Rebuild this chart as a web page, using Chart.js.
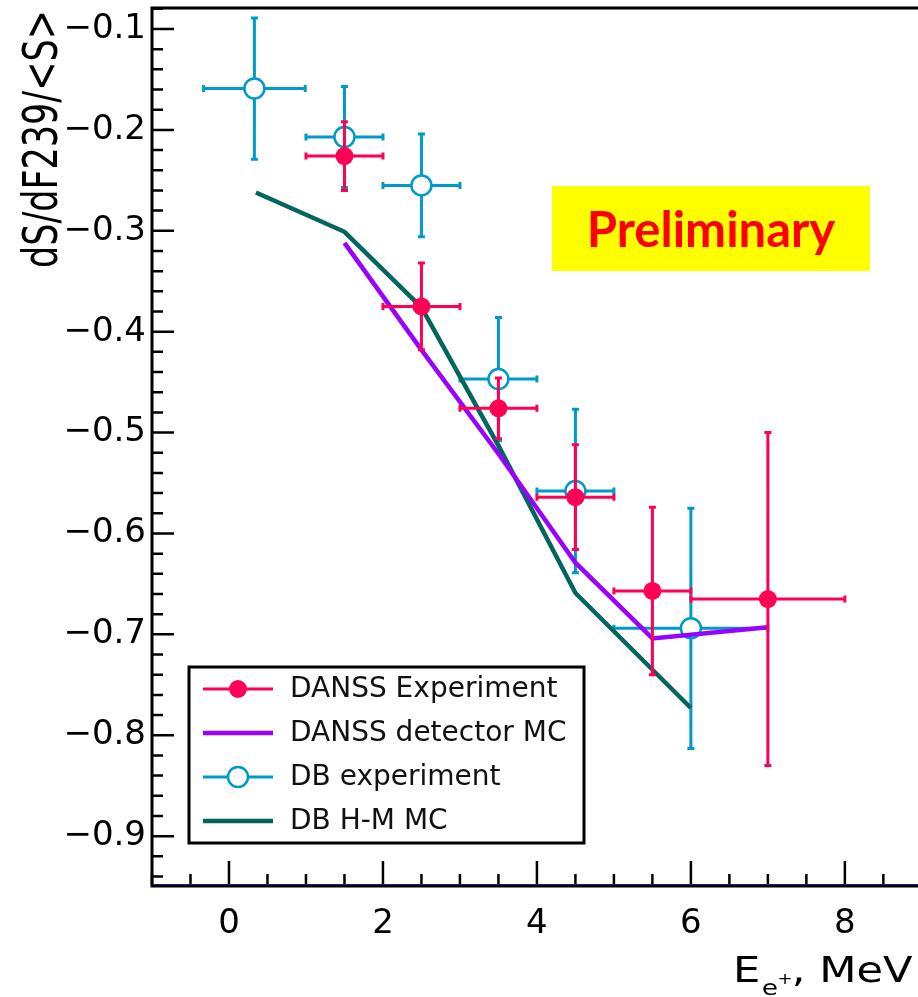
<!DOCTYPE html>
<html>
<head>
<meta charset="utf-8">
<script src="https://cdn.jsdelivr.net/npm/chart.js@4.4.1/dist/chart.umd.min.js"></script>
<style>
  html, body { margin: 0; padding: 0; background: #fff; overflow: hidden; }
  #wrap { position: relative; width: 918px; height: 997px; }
  #prelim {
    position: absolute; left: 552px; top: 186px; width: 318px; height: 85px;
    background: #ffff00; color: #ff0000;
    font: bold 49px Lato, "Open Sans", sans-serif;
    line-height: 85px; text-align: center;
  }
</style>
</head>
<body>
<div id="wrap">
  <canvas id="chart" width="918" height="997"></canvas>
  <div id="prelim">Preliminary</div>
</div>
<script>
// tick labels
const xTicks = [0, 2, 4, 6, 8];
const yTicks = [-0.1, -0.2, -0.3, -0.4, -0.5, -0.6, -0.7, -0.8, -0.9];

// DANSS experiment
const danssE = [1.5, 2.5, 3.5, 4.5, 5.5, 7.0];
const danssVal = [-0.226, -0.375, -0.476, -0.564, -0.657, -0.665];
const danssErrX = [0.5, 0.5, 0.5, 0.5, 0.5, 1.0];
const danssErrY = [0.034, 0.043, 0.030, 0.052, 0.083, 0.165];

// DANSS detector MC
const danssMcE = [1.5, 2.5, 3.5, 4.5, 5.5, 7.0];
const danssMcVal = [-0.312, -0.418, -0.521, -0.629, -0.704, -0.693];

// DB experiment
const dbE = [0.33, 1.5, 2.5, 3.5, 4.5, 6.0];
const dbVal = [-0.159, -0.207, -0.255, -0.447, -0.558, -0.694];
const dbErrX = [0.66, 0.5, 0.5, 0.5, 0.5, 1.0];
const dbErrY = [0.070, 0.050, 0.051, 0.061, 0.081, 0.119];

// DB H-M MC
const dbMcE = [0.35, 1.5, 2.5, 3.5, 4.5, 6.0];
const dbMcVal = [-0.262, -0.301, -0.376, -0.513, -0.659, -0.773];

const PINK = 'rgb(255, 0, 85)';
const PURPLE = 'rgb(153, 0, 255)';
const BLUE = 'rgb(0, 153, 204)';
const TEAL = 'rgb(0, 102, 94)';

const pts = (xs, ys) => xs.map((x, i) => ({ x: x, y: ys[i] }));

// ROOT style error bars with small end caps, drawn just under each dataset's markers
const errorBars = {
  id: 'errorBars',
  beforeDatasetDraw(chart, args) {
    const ds = chart.data.datasets[args.index];
    if (!ds.errX) return;
    const { ctx, scales: { x, y } } = chart;
    ctx.save();
    ctx.strokeStyle = ds.borderColor;
    ctx.lineWidth = 3;
    ctx.beginPath();
    ds.data.forEach((p, i) => {
      const px = x.getPixelForValue(p.x), py = y.getPixelForValue(p.y);
      const x0 = x.getPixelForValue(p.x - ds.errX[i]), x1 = x.getPixelForValue(p.x + ds.errX[i]);
      const y0 = y.getPixelForValue(p.y - ds.errY[i]), y1 = y.getPixelForValue(p.y + ds.errY[i]);
      ctx.moveTo(x0, py); ctx.lineTo(x1, py);
      ctx.moveTo(px, y0); ctx.lineTo(px, y1);
      ctx.moveTo(x0, py - 3.5); ctx.lineTo(x0, py + 3.5);
      ctx.moveTo(x1, py - 3.5); ctx.lineTo(x1, py + 3.5);
      ctx.moveTo(px - 3.5, y0); ctx.lineTo(px + 3.5, y0);
      ctx.moveTo(px - 3.5, y1); ctx.lineTo(px + 3.5, y1);
    });
    ctx.stroke();
    ctx.restore();
  }
};

// frame, inward ticks, legend box and axis titles
const rootFrame = {
  id: 'rootFrame',
  afterDraw(chart) {
    const { ctx, chartArea: a, scales: { x, y } } = chart;
    ctx.save();
    ctx.strokeStyle = '#000';
    ctx.lineWidth = 2.5;
    ctx.beginPath();
    for (let i = Math.ceil(x.min * 2); i <= Math.floor(x.max * 2); i++) {
      const px = x.getPixelForValue(i / 2);
      const len = i % 4 === 0 ? 25 : 12;
      ctx.moveTo(px, a.bottom); ctx.lineTo(px, a.bottom - len);
    }
    for (let i = Math.ceil(y.min * 50); i <= Math.floor(y.max * 50); i++) {
      const py = y.getPixelForValue(i / 50);
      const len = i % 5 === 0 ? 22 : 11;
      ctx.moveTo(a.left, py); ctx.lineTo(a.left + len, py);
    }
    ctx.stroke();

    // frame
    ctx.lineWidth = 3;
    ctx.beginPath();
    ctx.moveTo(a.right, a.top); ctx.lineTo(a.left, a.top); ctx.lineTo(a.left, a.bottom); ctx.lineTo(a.right, a.bottom);
    ctx.stroke();
    ctx.strokeStyle = '#1c1c8c';
    ctx.lineWidth = 1;
    ctx.beginPath();
    ctx.moveTo(a.left + 2, a.bottom - 1.5); ctx.lineTo(a.right, a.bottom - 1.5);
    ctx.stroke();

    // legend
    const lx = 189, ly = 667, lw = 395, lh = 176;
    ctx.fillStyle = '#fff';
    ctx.fillRect(lx, ly, lw, lh);
    ctx.strokeStyle = '#000';
    ctx.lineWidth = 3;
    ctx.strokeRect(lx, ly, lw, lh);
    ctx.font = '28px "DejaVu Sans"';
    ctx.textBaseline = 'middle';
    ctx.textAlign = 'left';
    chart.data.datasets.forEach((ds, i) => {
      const ry = 689 + i * 44;
      ctx.strokeStyle = ds.borderColor;
      ctx.lineWidth = ds.showLine ? ds.borderWidth : 3;
      ctx.beginPath();
      ctx.moveTo(203, ry); ctx.lineTo(273, ry);
      ctx.stroke();
      if (ds.pointRadius > 0) {
        ctx.beginPath();
        ctx.arc(238, ry, ds.pointRadius, 0, Math.PI * 2);
        ctx.fillStyle = ds.backgroundColor;
        ctx.fill();
        if (ds.pointBorderWidth > 0) {
          ctx.lineWidth = ds.pointBorderWidth;
          ctx.stroke();
        }
      }
      ctx.fillStyle = '#111';
      ctx.fillText(ds.label, 290, ry + 1);
    });

    // y title
    ctx.fillStyle = '#000';
    ctx.save();
    ctx.translate(57, 10);
    ctx.rotate(-Math.PI / 2);
    ctx.scale(1, 1.35);
    ctx.font = '35px "DejaVu Sans"';
    ctx.textAlign = 'right';
    ctx.textBaseline = 'alphabetic';
    ctx.fillText('dS/dF239/<S>', 0, 0);
    ctx.restore();

    // x title
    ctx.save();
    ctx.textBaseline = 'alphabetic';
    ctx.textAlign = 'left';
    ctx.translate(733, 982);
    ctx.scale(1.2, 1);
    ctx.font = '36px "DejaVu Sans"';
    ctx.fillText('E', 0, 0);
    ctx.font = '22px "DejaVu Sans"';
    ctx.fillText('e', 24, 13);
    ctx.font = '15px "DejaVu Sans"';
    ctx.fillText('+', 37, 2);
    ctx.font = '36px "DejaVu Sans"';
    ctx.fillText(', MeV', 49, 0);
    ctx.restore();
    ctx.restore();
  }
};

new Chart(document.getElementById('chart'), {
  type: 'scatter',
  data: {
    datasets: [
      {
        label: 'DANSS Experiment',
        data: pts(danssE, danssVal),
        errX: danssErrX, errY: danssErrY,
        borderColor: PINK, backgroundColor: PINK,
        pointRadius: 9, pointBorderWidth: 0, pointHoverRadius: 9,
        showLine: false, order: 1
      },
      {
        label: 'DANSS detector MC',
        data: pts(danssMcE, danssMcVal),
        borderColor: PURPLE, backgroundColor: PURPLE,
        borderWidth: 4.5, pointRadius: 0, showLine: true, tension: 0, order: 2
      },
      {
        label: 'DB experiment',
        data: pts(dbE, dbVal),
        errX: dbErrX, errY: dbErrY,
        borderColor: BLUE, backgroundColor: '#fff',
        pointRadius: 10, pointBorderWidth: 2.5, pointHoverRadius: 10,
        showLine: false, order: 4
      },
      {
        label: 'DB H-M MC',
        data: pts(dbMcE, dbMcVal),
        borderColor: TEAL, backgroundColor: TEAL,
        borderWidth: 4.5, pointRadius: 0, showLine: true, tension: 0, order: 3
      }
    ]
  },
  options: {
    responsive: false,
    animation: false,
    devicePixelRatio: 1,
    layout: { autoPadding: false, padding: { top: 8, left: 0, right: 0, bottom: 0 } },
    plugins: { legend: { display: false }, tooltip: { enabled: false } },
    scales: {
      x: {
        type: 'linear', min: -1, max: 8.95,
        afterBuildTicks: s => { s.ticks = xTicks.map(v => ({ value: v })); },
        afterFit: s => { s.height = 111; s.paddingLeft = 0; s.paddingRight = 0; },
        grid: { display: false, drawTicks: false },
        border: { display: false },
        ticks: {
          font: { family: 'DejaVu Sans', size: 34 }, color: '#000',
          padding: 18, maxRotation: 0, autoSkip: false,
          callback: v => String(v)
        }
      },
      y: {
        type: 'linear', min: -0.9494, max: -0.0792,
        afterBuildTicks: s => { s.ticks = yTicks.map(v => ({ value: v })); },
        afterFit: s => { s.width = 152; s.paddingTop = 0; s.paddingBottom = 0; },
        grid: { display: false, drawTicks: false },
        border: { display: false },
        ticks: {
          font: { family: 'DejaVu Sans', size: 34 }, color: '#000',
          padding: 6, autoSkip: false,
          callback: v => '\u2212' + Math.abs(v).toFixed(1)
        }
      }
    }
  },
  plugins: [errorBars, rootFrame]
});
</script>
</body>
</html>
